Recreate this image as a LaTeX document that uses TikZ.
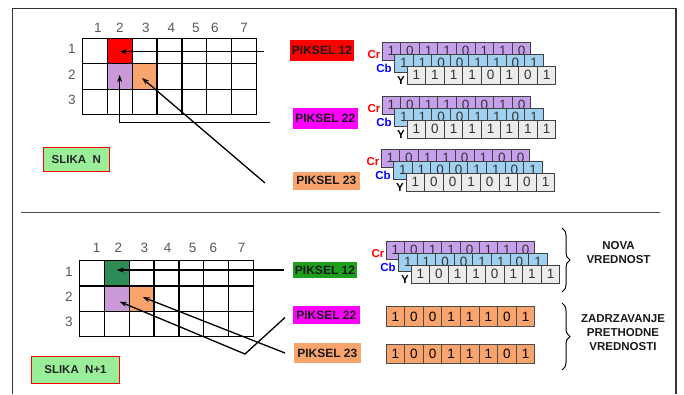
\documentclass[tikz,border=0pt]{standalone}
\usepackage{fontspec}
\setmainfont{Liberation Sans}
\usetikzlibrary{arrows.meta,decorations.pathreplacing}

\definecolor{crfill}{HTML}{C6A0EA}
\definecolor{cbfill}{HTML}{9FD0F0}
\definecolor{yfill}{HTML}{ECECEC}
\definecolor{orng}{HTML}{F8A46C}
\definecolor{lilac}{HTML}{CA9AD8}
\definecolor{dkgreen}{HTML}{2E8B57}
\definecolor{lblgreen}{HTML}{1E9E1E}
\definecolor{slgreen}{HTML}{9AEE9A}
\definecolor{pink}{HTML}{FF00FF}
\definecolor{bright}{HTML}{FF0000}
\definecolor{framegray}{HTML}{333333}

% one row of eight bit cells: name, style, left x, top y, digits
\newcommand{\bitcells}[5]{%
  \foreach \b [count=\i] in {#5} {%
    \node[#2] (#1-\i) at ({#3+(\i-0.5)*18.6},{#4+9}) {\b};
  }}
% stacked Cr / Cb / Y registers of one pixel
\newcommand{\yccreg}[6]{%
  \bitcells{#1cr}{crbit}{#2}{#3}{#4}
  \bitcells{#1cb}{cbbit}{#2+12.5}{#3+12}{#5}
  \bitcells{#1y}{ybit}{#2+25}{#3+24}{#6}
  \node[tag,text=bright] (#1crl) at ({#2-8},{#3+12.5}) {Cr};
  \node[tag,text=blue] (#1cbl) at ({#2+2},{#3+26.5}) {Cb};
  \node[tag,text=black] (#1yl) at ({#2+19},{#3+38.5}) {Y};
}
% 3 x 7 pixel grid drawn over its named cells (prefix)
\newcommand{\pixgrid}[1]{%
  \foreach \c in {1,...,7}
    \draw[gridline] (#11\c.north west) -- (#13\c.south west);
  \draw[gridline] (#117.north east) -- (#137.south east);
  \foreach \r in {1,2,3}
    \draw[gridline] (#1\r1.north west) -- (#1\r7.north east);
  \draw[gridline] (#131.south west) -- (#137.south east);
}

\tikzset{
  frame/.style={draw=framegray, line width=1.4pt},
  cell/.style={minimum width=24.9pt, minimum height=25.5pt, inner sep=0pt, outer sep=0pt},
  gridline/.style={line width=1.2pt, line cap=rect},
  tf12/.style={fill=bright}, tf22/.style={fill=lilac}, tf23/.style={fill=orng},
  bf12/.style={fill=dkgreen}, bf22/.style={fill=lilac}, bf23/.style={fill=orng},
  gridnum/.style={text=black!65, inner sep=0pt, font=\fontsize{13.5}{14}\selectfont},
  bit/.style={draw=black!75, line width=0.9pt, minimum width=18.6pt, minimum height=18pt,
    inner sep=0pt, text=black!80, font=\fontsize{13.5}{14}\selectfont},
  crbit/.style={bit, fill=crfill},
  cbbit/.style={bit, fill=cbfill},
  ybit/.style={bit, fill=yfill},
  obit/.style={bit, fill=orng, minimum height=19.5pt, draw=black!70, text=black},
  tag/.style={inner sep=0pt, font=\bfseries\fontsize{11.5}{12}\selectfont},
  pix/.style={inner sep=0pt, text=black!90, font=\bfseries\fontsize{12}{13}\selectfont},
  slika/.style={draw=bright, line width=1pt, fill=slgreen, inner sep=0pt, text=black!85,
    font=\bfseries\fontsize{11.5}{12}\selectfont},
  note/.style={align=center, inner sep=0pt, text=black!90,
    font=\bfseries\fontsize{11.5}{14}\selectfont},
  arr/.style={line width=1.3pt, -{Stealth[length=7pt,width=5pt]}},
  brc/.style={line width=1pt, decorate, decoration={brace, amplitude=8pt}},
}

\begin{document}
\begin{tikzpicture}[x=1pt,y=-1pt]
\useasboundingbox (0,0) rectangle (684,394);

% outer frame and separator
\draw[frame] (12.7,394) -- (12.7,8.3) -- (676,8.3) -- (676,394);
\draw[draw=black!70, line width=1.3pt] (21,212.7) -- (660,212.7);

% ---------- frame N ----------
\foreach \r in {1,2,3}
  \foreach \c in {1,...,7}
    \node[cell, tf\r\c/.try] (t\r\c) at ({82.3+(\c-0.5)*24.9},{38.3+(\r-0.5)*25.5}) {};
\pixgrid{t}
\foreach \x [count=\c] in {98,120,146,171.5,196,215,244}
  \node[gridnum] (tc\c) at (\x,28) {\c};
\foreach \r in {1,2,3}
  \node[gridnum] (tr\r) at (72,{36.3+(\r-0.5)*25.5}) {\r};

\node[slika, minimum width=66pt, minimum height=24.4pt] (slN) at (76.3,159.5) {SLIKA\ \ N};

\node[pix, fill=bright, minimum width=64pt, minimum height=20.7pt] (p1) at (322,50.3) {PIKSEL 12};
\node[pix, fill=pink, minimum width=65.3pt, minimum height=21pt] (p2) at (325.3,118.5) {PIKSEL 22};
\node[pix, fill=orng, minimum width=67.3pt, minimum height=18.3pt] (p3) at (326.3,180.8) {PIKSEL 23};

\yccreg{a}{382}{42}{1,0,1,1,0,1,1,0}{1,1,0,0,1,1,0,1}{1,1,1,1,0,1,0,1}
\yccreg{b}{382}{96}{1,0,1,1,0,0,1,0}{1,1,0,0,1,1,0,1}{1,0,1,1,1,1,1,1}
\yccreg{c}{381}{149}{1,0,1,1,0,1,0,0}{1,1,0,0,1,1,0,1}{1,0,0,1,0,1,0,1}

\coordinate (e1) at (264,51.7);
\coordinate (e2) at (270,122.3);
\coordinate (e3) at (265,183);
\draw[arr] (e1) -- (e1 -| t12.center);
\draw[arr] (e2) -| ([yshift=1.5pt]t22.center);
\draw[arr] (e3) -- ([xshift=-2.5pt,yshift=-1.5pt]t23.center);

% ---------- frame N+1 ----------
\foreach \r in {1,2,3}
  \foreach \c in {1,...,7}
    \node[cell, bf\r\c/.try] (b\r\c) at ({79.3+(\c-0.5)*24.9},{260.7+(\r-0.5)*25.3}) {};
\pixgrid{b}
\foreach \x [count=\c] in {96.7,118.3,144.3,167.7,192.7,213.3,241.7}
  \node[gridnum] (bc\c) at (\x,248) {\c};
\foreach \r in {1,2,3}
  \node[gridnum] (br\r) at (69,{258.7+(\r-0.5)*25.3}) {\r};

\node[slika, minimum width=87.6pt, minimum height=27pt] (slN1) at (75.5,369.5) {SLIKA\ \ N+1};

\node[pix, fill=lblgreen, minimum width=64.6pt, minimum height=16.6pt] (p4) at (325,270) {PIKSEL 12};
\node[pix, fill=pink, minimum width=67.3pt, minimum height=18.6pt] (p5) at (326.3,315) {PIKSEL 22};
\node[pix, fill=orng, minimum width=66.7pt, minimum height=20pt] (p6) at (327.3,353.3) {PIKSEL 23};

\yccreg{d}{386}{241}{1,0,1,1,0,1,1,0}{1,1,0,0,1,1,0,1}{1,0,1,1,0,1,1,1}
\bitcells{o1}{obit}{386}{307.35}{1,0,0,1,1,1,0,1}
\bitcells{o2}{obit}{386}{345.15}{1,0,0,1,1,1,0,1}

\coordinate (f1) at (284,270);
\coordinate (f2) at (285,317.5);
\coordinate (k2) at (245,354);
\coordinate (f3) at (285,353);
\draw[arr] (f1) -- (f1 -| b12.center);
\draw[arr] (f2) -- (k2) -- ([xshift=3pt,yshift=-3pt]b22.center);
\draw[arr] (f3) -- ([xshift=1.3pt,yshift=1.5pt]b23.center);

% braces and notes
\coordinate (g1) at (562,228);
\coordinate (g2) at (562,292);
\coordinate (g3) at (562,303);
\coordinate (g4) at (562,370);
\draw[brc] (g1) -- (g2);
\draw[brc] (g3) -- (g4);
\node[note] (nova) at (618.5,253) {NOVA\\VREDNOST};
\node[note] (zadr) at (623,333) {ZADRZAVANJE\\PRETHODNE\\VREDNOSTI};
\end{tikzpicture}
\end{document}
